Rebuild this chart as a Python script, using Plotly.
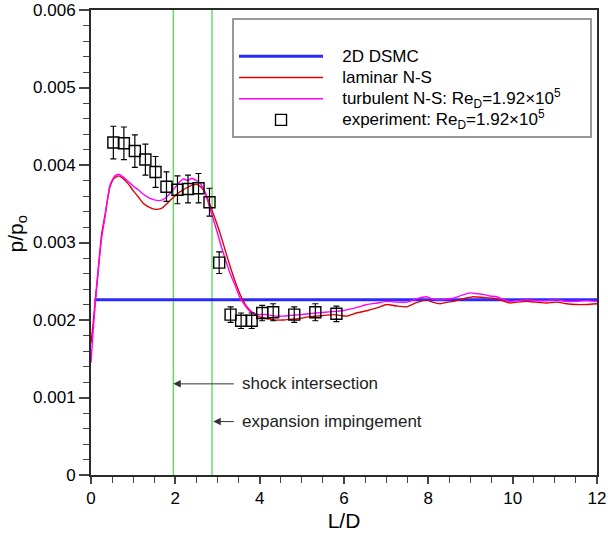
import plotly.graph_objects as go

FONT = "Liberation Sans, Arial, Helvetica, sans-serif"

# ---------------- data ----------------
dsmc_x = [0.08, 12.0]
dsmc_y = [0.00226, 0.00226]

lam_x = [0, 0.05, 0.1, 0.17, 0.25, 0.33, 0.45, 0.55, 0.65, 0.75, 0.88, 1.0, 1.12, 1.25, 1.4, 1.5,
         1.6, 1.7, 1.8, 1.95, 2.1, 2.25, 2.4, 2.5, 2.6, 2.7, 2.8, 2.9, 3.0, 3.1, 3.2, 3.3, 3.45,
         3.57, 3.7, 3.85, 4.0, 4.17, 4.35, 4.56, 4.75, 4.96, 5.15, 5.35, 5.55, 5.75, 5.9, 6.06,
         6.3, 6.54, 6.8, 7.01, 7.25, 7.49, 7.7, 7.96, 8.1, 8.28, 8.45, 8.59, 8.8, 9.07, 9.3,
         9.54, 9.75, 9.94, 10.1, 10.33, 10.55, 10.81, 11.05, 11.28, 11.5, 11.75, 12.0]
lam_y = [1.70, 1.95, 2.25, 2.65, 3.10, 3.35, 3.72, 3.83, 3.86, 3.83, 3.76, 3.67, 3.59, 3.50, 3.45, 3.43,
         3.43, 3.45, 3.50, 3.58, 3.65, 3.70, 3.74, 3.75, 3.72, 3.65, 3.52, 3.37, 3.22, 3.05, 2.87, 2.69, 2.45,
         2.29, 2.17, 2.09, 2.04, 2.02, 2.00, 2.00, 2.01, 2.02, 2.04, 2.05, 2.06, 2.07, 2.06, 2.05,
         2.09, 2.12, 2.16, 2.20, 2.18, 2.17, 2.22, 2.26, 2.23, 2.21, 2.23, 2.24, 2.27, 2.30, 2.29,
         2.28, 2.25, 2.22, 2.23, 2.24, 2.23, 2.22, 2.23, 2.21, 2.20, 2.20, 2.21]

turb_x = [0, 0.05, 0.1, 0.17, 0.25, 0.33, 0.45, 0.55, 0.65, 0.75, 0.88, 1.0, 1.12, 1.25, 1.4, 1.5,
          1.6, 1.7, 1.8, 1.95, 2.1, 2.19, 2.3, 2.39, 2.5, 2.58, 2.7, 2.8, 2.9, 3.0, 3.1, 3.2, 3.3,
          3.4, 3.53, 3.65, 3.77, 3.9, 4.0, 4.17, 4.35, 4.56, 4.75, 4.96, 5.15, 5.35, 5.55, 5.75,
          5.95, 6.14, 6.35, 6.54, 6.8, 7.01, 7.25, 7.49, 7.7, 7.96, 8.1, 8.28, 8.45, 8.59, 8.8,
          8.99, 9.15, 9.3, 9.45, 9.62, 9.8, 9.94, 10.1, 10.33, 10.55, 10.81, 11.05, 11.28, 11.5,
          11.75, 12.0]
turb_y = [1.45, 1.85, 2.20, 2.62, 3.05, 3.32, 3.74, 3.85, 3.88, 3.85, 3.79, 3.73, 3.68, 3.62, 3.57, 3.55,
          3.54, 3.55, 3.59, 3.68, 3.78, 3.82, 3.80, 3.83, 3.80, 3.77, 3.65, 3.48, 3.30, 3.12, 2.93, 2.76, 2.60,
          2.47, 2.29, 2.19, 2.11, 2.08, 2.07, 2.07, 2.05, 2.05, 2.06, 2.07, 2.08, 2.09, 2.10, 2.11,
          2.12, 2.14, 2.17, 2.20, 2.22, 2.24, 2.23, 2.23, 2.27, 2.30, 2.27, 2.26, 2.27, 2.28, 2.32,
          2.35, 2.34, 2.33, 2.31, 2.30, 2.26, 2.24, 2.25, 2.26, 2.25, 2.25, 2.26, 2.24, 2.24,
          2.25, 2.24]

exp_x = [0.53, 0.78, 1.04, 1.29, 1.53, 1.79, 2.05, 2.30, 2.55, 2.81, 3.04,
         3.31, 3.56, 3.81, 4.06, 4.32, 4.82, 5.32, 5.82]
exp_y = [4.29, 4.28, 4.18, 4.07, 3.91, 3.72, 3.68, 3.69, 3.70, 3.52, 2.74,
         2.07, 1.99, 1.99, 2.09, 2.10, 2.07, 2.10, 2.08]
exp_err = [0.21, 0.21, 0.21, 0.20, 0.20, 0.19, 0.18, 0.18, 0.19, 0.18, 0.14,
           0.10, 0.10, 0.10, 0.10, 0.11, 0.10, 0.11, 0.10]

event_x = [1.95, 2.87]
event_labels = ["shock intersection", "expansion impingement"]
event_label_y = [1.176e-3, 0.689e-3]
event_arrow_head_x = [1.95, 2.90]
event_text_x = [3.53, 3.53]

x_ticks = [0, 2, 4, 6, 8, 10, 12]
y_ticks = [0, 0.001, 0.002, 0.003, 0.004, 0.005, 0.006]
y_tick_text = ["0", "0.001", "0.002", "0.003", "0.004", "0.005", "0.006"]

series_names = [
    "2D DSMC",
    "laminar N-S",
    "turbulent N-S: Re<sub>D</sub>=1.92×10<sup>5</sup>",
    "experiment: Re<sub>D</sub>=1.92×10<sup>5</sup>",
]

scale = 1e-3
PAD = "&nbsp;&nbsp;&nbsp;"     # gap between legend sample and label
TAIL = "&nbsp;" * 5            # right padding inside legend box


def legend_label(text, tail=""):
    return '<span style="font-size:17px">' + PAD + text + tail + "</span>"


# ---------------- figure ----------------
fig = go.Figure()

for ex in event_x:
    fig.add_trace(go.Scatter(x=[ex, ex], y=[0, 0.006], mode="lines",
                             line=dict(color="#22cc22", width=1),
                             showlegend=False, hoverinfo="skip"))

fig.add_trace(go.Scatter(x=dsmc_x, y=dsmc_y, mode="lines", name=legend_label(series_names[0]),
                         line=dict(color="rgb(40,40,255)", width=3)))
fig.add_trace(go.Scatter(x=lam_x, y=[v * scale for v in lam_y], mode="lines",
                         name=legend_label(series_names[1]),
                         line=dict(color="rgb(225,0,0)", width=1.4, shape="spline", smoothing=0.5)))
fig.add_trace(go.Scatter(x=turb_x, y=[v * scale for v in turb_y], mode="lines",
                         name=legend_label(series_names[2], TAIL),
                         line=dict(color="rgb(255,0,255)", width=1.4, shape="spline", smoothing=0.5)))
fig.add_trace(go.Scatter(x=exp_x, y=[v * scale for v in exp_y], mode="markers",
                         name=legend_label(series_names[3]),
                         marker=dict(symbol="square-open", size=11, color="black",
                                     line=dict(width=1.4, color="black")),
                         error_y=dict(type="data", array=[v * scale for v in exp_err],
                                      color="black", thickness=1.2, width=3)))

for i in range(len(event_labels)):
    fig.add_annotation(x=event_arrow_head_x[i], y=event_label_y[i],
                       ax=event_text_x[i], ay=event_label_y[i],
                       axref="x", ayref="y", xref="x", yref="y",
                       text=event_labels[i], xanchor="left", yanchor="middle",
                       showarrow=True, arrowhead=2, arrowsize=1.5, arrowwidth=1,
                       arrowcolor="#333333", startstandoff=6,
                       font=dict(size=17, color="#222222", family=FONT))

axis_common = dict(showline=True, linecolor="#2a2a2a", linewidth=2, mirror=True,
                   ticks="outside", tickcolor="#444444", tickwidth=1.5,
                   showgrid=False, zeroline=False,
                   tickfont=dict(size=17, color="black", family=FONT))

fig.update_xaxes(range=[0, 12], tickvals=x_ticks, ticklen=7,
                 minor=dict(dtick=0.5, ticks="outside", ticklen=6, tickcolor="#444444", tickwidth=1.2),
                 title=dict(text="L/D", font=dict(size=21, color="black", family=FONT), standoff=6),
                 automargin=False, **axis_common)
fig.update_yaxes(range=[0, 0.006], tickvals=y_ticks, ticktext=y_tick_text, ticklen=10,
                 minor=dict(dtick=0.0002, ticks="outside", ticklen=6, tickcolor="#444444", tickwidth=1.2),
                 title=dict(text="&nbsp;&nbsp;&nbsp;p/p<sub>o</sub>",
                            font=dict(size=21, color="black", family=FONT), standoff=4),
                 automargin=False, **axis_common)

fig.update_layout(
    width=608, height=533,
    margin=dict(l=91, r=11, t=10, b=58),
    paper_bgcolor="white", plot_bgcolor="white",
    font=dict(family=FONT, size=17, color="black"),
    legend=dict(x=0.2787, y=0.983, xanchor="left", yanchor="top",
                bgcolor="white", bordercolor="#999999", borderwidth=2,
                font=dict(size=14, family=FONT, color="black"),
                itemwidth=84, tracegroupgap=0,
                title=dict(text=" ", font=dict(size=16))),
)

fig.write_html("out.html")
